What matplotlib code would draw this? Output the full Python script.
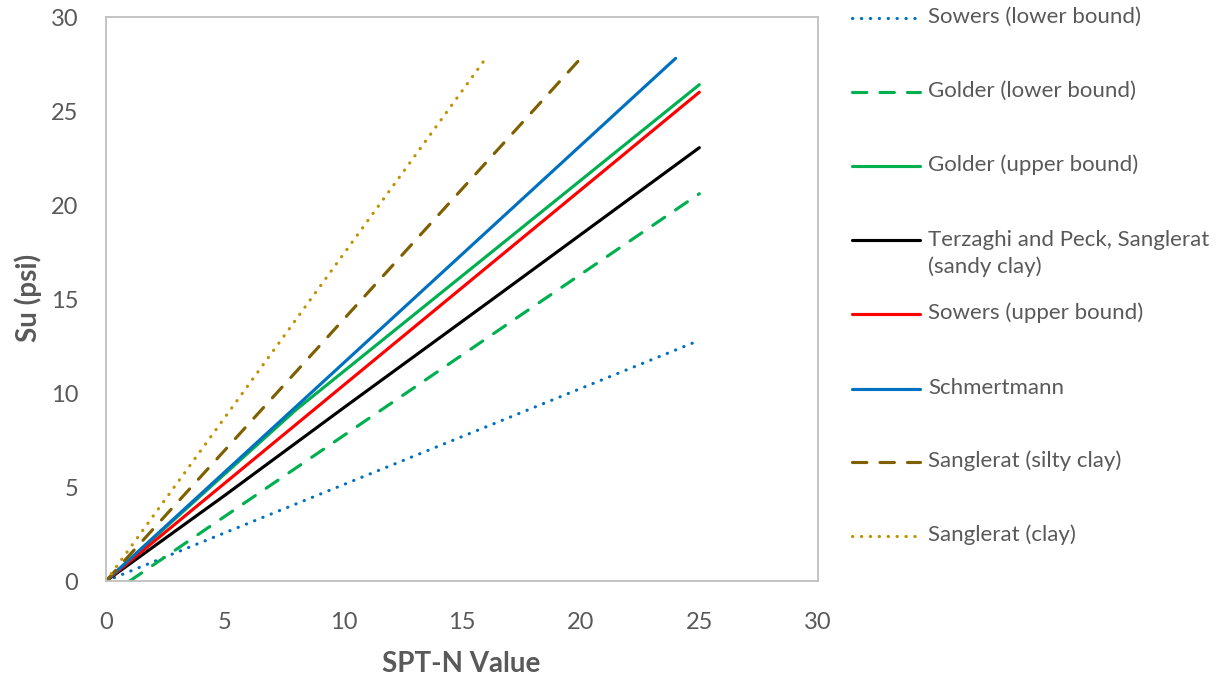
import matplotlib
matplotlib.use("Agg")
import matplotlib.pyplot as plt
from matplotlib.lines import Line2D

plt.rcParams['font.family'] = ['Lato', 'DejaVu Sans']

# ---- data ----
sowers_lower_x = [0, 25]
sowers_lower_y = [0, 12.8]
golder_lower_x = [1, 25]
golder_lower_y = [0, 20.6]
golder_upper_x = [0, 8, 25]
golder_upper_y = [0, 9.1, 26.4]
terzaghi_x = [0, 5, 10, 16.3, 25]
terzaghi_y = [0, 4.55, 9.2, 15.0, 23.05]
sowers_upper_x = [0, 25]
sowers_upper_y = [0, 26.0]
schmertmann_x = [0, 24]
schmertmann_y = [0, 27.8]
silty_x = [0, 20]
silty_y = [0, 27.8]
clay_x = [0, 16]
clay_y = [0, 27.8]

labels = ["Sowers (lower bound)", "Golder (lower bound)", "Golder (upper bound)",
          "Terzaghi and Peck, Sanglerat\n(sandy clay)", "Sowers (upper bound)",
          "Schmertmann", "Sanglerat (silty clay)", "Sanglerat (clay)"]
xticks = [0, 5, 10, 15, 20, 25, 30]
yticks = [0, 5, 10, 15, 20, 25, 30]

TXT = '#595959'
BLUE = '#0070C0'
GREEN = '#00B050'
RED = '#FF0000'
BROWN = '#7F6000'
GOLD = '#BF9000'
LW = 2.25
dot = (0, (0.1, 2.75))
dash = (0, (4.6, 4.2))

styles = [
    dict(color=BLUE, ls=dot, lw=LW, dash_capstyle='round'),
    dict(color=GREEN, ls=dash, lw=LW, dash_capstyle='round'),
    dict(color=GREEN, ls='-', lw=LW, solid_capstyle='round'),
    dict(color='black', ls='-', lw=LW, solid_capstyle='round'),
    dict(color=RED, ls='-', lw=LW, solid_capstyle='round'),
    dict(color=BLUE, ls='-', lw=LW, solid_capstyle='round'),
    dict(color=BROWN, ls=dash, lw=LW, dash_capstyle='round'),
    dict(color=GOLD, ls=dot, lw=LW, dash_capstyle='round'),
]
series = [(sowers_lower_x, sowers_lower_y), (golder_lower_x, golder_lower_y),
          (golder_upper_x, golder_upper_y), (terzaghi_x, terzaghi_y),
          (sowers_upper_x, sowers_upper_y), (schmertmann_x, schmertmann_y),
          (silty_x, silty_y), (clay_x, clay_y)]

W, H = 1218, 682
fig = plt.figure(figsize=(W / 100, H / 100), dpi=100)
ax = fig.add_axes([106 / W, 1 - 581 / H, (818 - 106) / W, (581 - 17) / H])

for (x, y), st in zip(series, styles):
    ax.plot(x, y, **st)

ax.set_xlim(0, 30)
ax.set_ylim(0, 30)
ax.set_xticks(xticks)
ax.set_yticks(yticks)
ax.tick_params(length=0, labelsize=17, labelcolor=TXT)
ax.tick_params(axis='x', pad=22)
ax.tick_params(axis='y', pad=20)
for s in ax.spines.values():
    s.set_color('#BFBFBF')
    s.set_linewidth(1.3)

fig.text(461 / W, 1 - 664 / H, "SPT-N Value", ha='center', va='center',
         fontsize=20, fontweight='bold', color=TXT)
fig.text(28 / W, 1 - 298 / H, "Su (psi)", ha='center', va='center', rotation=90,
         fontsize=20, fontweight='bold', color=TXT)

# ---- legend (manual, Excel-like placement) ----
ys = [18, 92, 166, 240, 314, 389, 462, 536]
for yy, lab, st in zip(ys, labels, styles):
    fig.add_artist(Line2D([852 / W, 920 / W], [1 - yy / H, 1 - yy / H],
                          transform=fig.transFigure, **st))
    if '\n' in lab:
        fig.text(928 / W, 1 - (yy - 10) / H, lab, ha='left', va='top',
                 fontsize=16, color=TXT, linespacing=1.4)
    else:
        fig.text(928 / W, 1 - (yy - 1) / H, lab, ha='left', va='center',
                 fontsize=16, color=TXT)

fig.savefig("out.png", dpi=100)
